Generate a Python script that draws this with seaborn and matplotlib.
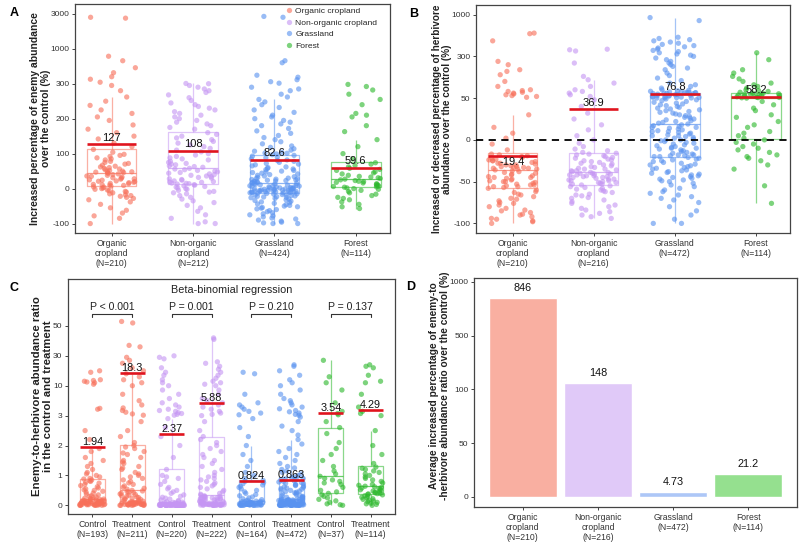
import numpy as np
import pandas as pd
import matplotlib
matplotlib.use("Agg")
import matplotlib.pyplot as plt
import seaborn as sns
from matplotlib.ticker import FixedLocator, FixedFormatter, NullLocator

# ---------------- DATA ----------------
land = ["Organic cropland", "Non-organic cropland", "Grassland", "Forest"]

# Panel A: increased percentage of enemy abundance (%)
a_labels = ["Organic\ncropland\n(N=210)", "Non-organic\ncropland\n(N=212)", "Grassland\n(N=424)", "Forest\n(N=114)"]
a_org = [2800, 2750, 850, 760, 620, 520, 440, 390, 330,
         295, 280, 262, 250, 238, 225, 215, 205,
         195, 182, 170, 160, 150, 142, 130, 120, 112, 104,
         98, 95, 92, 88, 85, 82, 78, 75, 72, 70, 67, 64, 62, 60, 58, 56, 54, 52, 50, 49, 48, 47, 46, 45,
         44, 42, 40, 38, 36, 35, 33, 31, 30, 28, 27, 25, 24, 22, 21, 20, 18, 17, 15, 14, 12, 11, 10,
         9, 7, 5, 4, 2, 0, -2, -4, -6, -8, -10, -12, -15, -18, -20, -22, -25, -28, -32, -38, -45, -55,
         -62, -70, -78, -85, -100]
a_non = [305, 300, 295, 290, 285, 280, 275, 268, 260, 252, 245, 240, 235, 230, 225, 220, 215, 210, 205,
         200, 195, 190, 185, 180, 175, 170,
         160, 155, 150, 145, 140, 135, 130, 125, 120, 115, 110, 105, 100, 96, 92, 88, 85, 82, 78, 75, 72,
         70, 68, 65, 63, 61,
         58, 56, 54, 52, 50, 48, 46, 44, 42, 40, 38, 36, 34, 32, 30, 28, 26, 24, 22, 20, 19, 18, 16, 15, 14, 13,
         11, 10, 8, 6, 4, 2, 0, -2, -5, -8, -10, -12, -15, -20, -25, -30, -35, -40, -48, -55, -65, -75, -85,
         -95, -100, -100]
a_gra = [2850, 2800, 760, 720, 470, 430, 380, 340, 310,
         290, 285, 280, 270, 262, 255, 248, 240, 232, 225, 218, 210, 205, 200, 195, 190, 185, 180, 172, 165,
         158, 152, 146, 140, 134, 128, 122, 118, 114, 110, 107, 104, 102, 101,
         99, 97, 95, 93, 90, 88, 85, 82, 80, 78, 75, 72, 70, 68, 65, 62, 60, 58, 56, 54, 52, 50, 48, 46, 44,
         42, 40, 38, 36, 34, 32, 30, 29, 28, 27, 26, 25, 24, 23, 22, 21, 20, 19, 18, 17, 16,
         15, 14, 13, 12, 11, 10, 9, 8, 8, 7, 6, 5, 5, 4, 3, 2, 2, 1, 0, 0, -1, -1, -2, -2, -3, -3, -4, -4,
         -5, -5, -6, -6, -7, -7, -8, -8, -9, -9, -10, -10, -11, -11, -12, -12, -13,
         -14, -15, -16, -17, -18, -19, -20, -21, -22, -23, -24, -25, -26, -28, -30, -32, -34, -36, -38, -40,
         -42, -44, -46, -48, -50, -52, -54, -56, -58, -60, -63, -66, -69, -72, -75, -78, -81, -84, -87, -90,
         -93, -96, -98, -100, -100]
a_for = [298, 292, 282, 270, 255, 240, 215, 210, 205, 180, 163, 140, 120, 100, 85,
         74, 70, 66, 62, 58, 55, 52, 48, 45, 42, 38, 35, 33, 31, 29,
         27, 25, 23, 21, 20, 18, 16, 14, 12, 10, 9, 7, 6, 5, 4,
         2, 0, -2, -5, -8, -12, -16, -20, -25, -28, -32, -38, -45, -52, -57]
a_means = [127, 108, 82.6, 59.6]
a_ticks = [-100, 0, 100, 200, 300, 1000, 3000]

# Panel B: increased or decreased percentage of herbivore abundance (%)
b_labels = ["Organic\ncropland\n(N=210)", "Non-organic\ncropland\n(N=216)", "Grassland\n(N=472)", "Forest\n(N=114)"]
b_org = [690, 680, 560, 270, 250, 220, 210, 190, 150, 120, 100, 95, 90, 85, 80, 75, 70, 65, 60, 55, 30, 15,
         8, 2, -5, -12,
         -17, -18, -19, -20, -21, -22, -23, -24, -25, -25, -26, -27, -28, -28, -29, -30, -30, -31, -32, -32,
         -33, -33, -34, -34, -35, -35,
         -36, -37, -38, -39, -40, -41, -42, -43, -44, -45, -45, -46, -47, -48, -49, -50, -50, -51, -52, -53,
         -54, -54, -55, -56, -56, -57,
         -58, -60, -62, -63, -65, -66, -68, -70, -71, -73, -75, -76, -78, -80, -82, -84, -85, -87, -89, -90,
         -92, -94, -95, -97, -98, -100]
b_non = [420, 410, 390, 260, 180, 160, 140, 120, 100, 90, 80, 70, 60, 48, 40, 32, 25, 18, 12, 5, 0, -4, -8,
         -11, -13, -15,
         -16, -17, -18, -19, -20, -21, -22, -23, -24, -25, -26, -27, -28, -29, -30, -31, -32, -33, -34, -35,
         -35, -36, -37, -37, -38, -39,
         -39, -40, -40, -41, -41, -42, -42, -43, -43, -44, -44, -45, -45, -46, -47, -47, -48, -49, -49, -50,
         -51, -51, -52, -53, -53, -54,
         -55, -56, -57, -58, -59, -60, -61, -62, -63, -65, -66, -67, -69, -70, -72, -74, -76, -78, -80, -82,
         -84, -86, -88, -90, -92, -94]
b_gra = [950, 900, 620, 600, 580, 560, 540, 520, 500, 480, 460, 440, 420, 400, 380, 360, 340, 320, 300, 290,
         280, 270, 260, 250, 240, 230, 220, 200, 185, 170, 155, 140, 130, 120, 110, 100, 97, 94, 91, 89, 87,
         85, 84, 83, 82, 81, 80, 79,
         78, 76, 74, 72, 70, 68, 66, 64, 62, 60, 58, 56, 55, 54, 53, 52, 51, 50, 49, 48, 47, 46, 45, 44, 43,
         42, 41, 40, 39, 38, 37, 36, 35, 34, 33, 32, 31, 30, 29, 28, 27, 26, 25, 24, 23, 22, 21, 20,
         19, 18, 17, 16, 15, 14, 13, 12, 11, 10, 9, 8, 7, 6, 5, 4, 3, 2, 1, 0, -1, -2, -3, -4, -5, -6, -7,
         -8, -9, -10, -11, -12, -13, -14, -15, -16, -17, -18, -18, -19, -19, -20, -20, 15, 10, 5, 0, -10,
         -21, -22, -23, -24, -25, -26, -27, -28, -29, -30, -31, -32, -33, -34, -35, -36, -37, -38, -39, -40,
         -41, -42, -43, -44, -45, -46, -47, -48, -49, -50, -52, -54, -56, -58, -60, -62, -64, -66, -68, -70,
         -72, -75, -80, -85, -90, -95, -100, -100]
b_for = [360, 280, 220, 200, 180, 165, 150, 140, 130, 120, 110, 100, 95, 90, 85,
         80, 78, 76, 74, 72, 70, 68, 66, 64, 62, 60, 58, 56, 54, 53,
         52, 50, 46, 42, 38, 35, 30, 27, 22, 18, 15, 10, 8, 5, 2,
         0, -3, -5, -8, -10, -12, -15, -18, -20, -22, -25, -30, -35, -55, -76]
b_means = [-19.4, 36.9, 76.8, 58.2]
b_ticks = [-100, -50, 0, 50, 300, 1000]

# Panel C: enemy-to-herbivore abundance ratio
c_labels = ["Control\n(N=193)", "Treatment\n(N=211)", "Control\n(N=220)", "Treatment\n(N=222)",
            "Control\n(N=164)", "Treatment\n(N=472)", "Control\n(N=37)", "Treatment\n(N=114)"]
c_land = ["Organic cropland", "Organic cropland", "Non-organic cropland", "Non-organic cropland",
          "Grassland", "Grassland", "Forest", "Forest"]
c_org_ctrl = [20, 19, 14, 13.5, 13, 12.5, 12, 11, 4.7, 4.5, 2.5, 2.2, 1.9, 1.8, 1.6, 1.5, 1.4, 1.3, 1.2, 1.1,
              1.05, 1.0, 0.95, 0.9,
              0.88, 0.85, 0.82, 0.8, 0.77, 0.74, 0.7, 0.66, 0.62, 0.58, 0.55, 0.52, 0.5, 0.47, 0.44, 0.41,
              0.38, 0.35, 0.32, 0.3, 0.28, 0.26, 0.24, 0.22,
              0.21, 0.2, 0.19, 0.18, 0.17, 0.17, 0.16, 0.15, 0.15, 0.14, 0.13, 0.13, 0.12, 0.12, 0.11, 0.11,
              0.1, 0.1, 0.1, 0.09, 0.09, 0.09, 0.08, 0.08,
              0.07, 0.07, 0.06, 0.06, 0.05, 0.05, 0.05, 0.04, 0.04, 0.04, 0.03, 0.03, 0.03, 0.02, 0.02, 0.02,
              0.01, 0.01, 0.01, 0.0, 0.0, 0.0, 0.0, 0.0]
c_org_trt = [53, 52, 37, 36, 29, 27, 25, 22, 20, 18, 16, 14, 12, 10, 8, 6.5, 5.5, 4.8, 4.2, 3.8, 3.4, 3.1,
             2.8, 2.5, 2.3, 2.1,
             2.0, 1.95, 1.9, 1.8, 1.75, 1.7, 1.6, 1.5, 1.45, 1.4, 1.3, 1.25, 1.2, 1.1, 1.05, 1.0, 0.95, 0.9,
             0.85, 0.8, 0.75, 0.7, 0.65, 0.6, 0.57, 0.54,
             0.5, 0.48, 0.46, 0.44, 0.42, 0.4, 0.38, 0.36, 0.34, 0.32, 0.3, 0.28, 0.26, 0.24, 0.22, 0.2, 0.19,
             0.17, 0.16, 0.14, 0.13, 0.12, 0.11, 0.1, 0.09, 0.08,
             0.08, 0.07, 0.07, 0.07, 0.06, 0.06, 0.06, 0.05, 0.05, 0.05, 0.04, 0.04, 0.04, 0.03, 0.03, 0.03,
             0.02, 0.02, 0.02, 0.01, 0.01, 0.01, 0.0, 0.0, 0.0, 0.0]
c_non_ctrl = [30, 29, 28, 22, 19, 17, 14, 12, 10, 9, 8, 7, 6, 5.5, 5, 4.5, 4.2, 4, 3.7, 3.5, 3.3, 3.1, 2.9,
              2.6, 2.3, 2.0, 1.6, 1.2,
              1.0, 0.95, 0.9, 0.8, 0.7, 0.6, 0.55, 0.5, 0.45, 0.4, 0.35, 0.3, 0.27, 0.24, 0.21, 0.18, 0.16,
              0.14, 0.12, 0.11, 0.1, 0.09, 0.08, 0.07, 0.06, 0.06, 0.05,
              0.05, 0.05, 0.04, 0.04, 0.04, 0.04, 0.03, 0.03, 0.03, 0.03, 0.03, 0.02, 0.02, 0.02, 0.02, 0.02,
              0.02, 0.01, 0.01, 0.01, 0.01, 0.01, 0.01, 0.01,
              0.0, 0.0, 0.0, 0.0, 0.0, 0.0, 0.0, 0.0, 0.0, 0.0, 0.0, 0.0, 0.0, 0.0, 0.0, 0.0, 0.0, 0.0, 0.0, 0.0,
              0.0, 0.0, 0.0, 0.0, 0.0, 0.0, 0.0, 0.0, 0.0, 0.0]
c_non_trt = [42, 41, 26, 25, 23, 21, 19, 17, 15, 13, 12, 11, 10, 9, 8, 7, 6.5, 6, 5.5, 5, 4.5, 4, 3.6, 3.3,
             3.0, 2.8, 2.5, 2.3,
             2.2, 2.1, 2.0, 1.9, 1.8, 1.7, 1.6, 1.5, 1.4, 1.3, 1.2, 1.1, 1.0, 0.95, 0.9, 0.85, 0.8, 0.75, 0.7,
             0.65, 0.6, 0.55, 0.5, 0.45, 0.4, 0.37, 0.34,
             0.32, 0.3, 0.29, 0.28, 0.27, 0.26, 0.25, 0.24, 0.23, 0.22, 0.21, 0.2, 0.19, 0.18, 0.17, 0.16,
             0.15, 0.14, 0.13, 0.12, 0.11, 0.1, 0.09, 0.08, 0.07, 0.06, 0.05,
             0.05, 0.05, 0.04, 0.04, 0.04, 0.04, 0.03, 0.03, 0.03, 0.03, 0.02, 0.02, 0.02, 0.02, 0.02, 0.01,
             0.01, 0.01, 0.01, 0.01, 0.0, 0.0, 0.0, 0.0, 0.0, 0.0, 0.0]
c_gra_ctrl = [19, 18, 8, 6, 5.5, 5, 4.5, 4, 3.6, 3.2, 2.9, 2.6, 2.3, 2.0, 1.7, 1.5, 1.3, 1.1, 1.0, 0.9,
              0.83, 0.8, 0.76, 0.72, 0.68, 0.64, 0.6, 0.55, 0.5, 0.45, 0.4, 0.36, 0.32, 0.28, 0.25, 0.22,
              0.19, 0.17, 0.15, 0.14,
              0.13, 0.12, 0.12, 0.11, 0.11, 0.1, 0.1, 0.09, 0.09, 0.08, 0.08, 0.07, 0.07, 0.06, 0.06, 0.05,
              0.05, 0.05, 0.04, 0.04, 0.04, 0.03, 0.03, 0.03, 0.03, 0.02, 0.02, 0.02, 0.02, 0.01, 0.01, 0.01,
              0.01, 0.0, 0.0, 0.0, 0.0, 0.0, 0.0, 0.0]
c_gra_trt = [24, 23, 20, 17, 14, 12, 10, 9, 8, 7, 6.5, 6, 5.5, 5, 4.6, 4.2, 3.9, 3.6, 3.3, 3.1, 2.95, 2.8,
             2.65, 2.5, 2.35, 2.2, 2.05, 1.9, 1.8, 1.7, 1.6, 1.5, 1.4, 1.3, 1.25, 1.2, 1.15, 1.1, 1.05, 1.0,
             0.95, 0.93, 0.9, 0.88, 0.86, 0.84, 0.82, 0.8, 0.78, 0.76, 0.74, 0.72, 0.7, 0.68, 0.66, 0.64,
             0.62, 0.6, 0.58, 0.56, 0.54, 0.52, 0.5, 0.48, 0.46, 0.44, 0.42, 0.4, 0.38, 0.36, 0.34, 0.32,
             0.3, 0.28, 0.27, 0.26, 0.25, 0.23, 0.22, 0.21,
             0.20, 0.19, 0.19, 0.18, 0.18, 0.17, 0.17, 0.16, 0.16, 0.15, 0.15, 0.14, 0.14, 0.13, 0.13, 0.12,
             0.12, 0.11, 0.11, 0.10, 0.10, 0.09, 0.09, 0.09, 0.08, 0.08, 0.08, 0.07, 0.07, 0.07, 0.06, 0.06,
             0.06, 0.06, 0.05, 0.05, 0.05, 0.05, 0.04, 0.04, 0.04, 0.04, 0.04, 0.03, 0.03, 0.03, 0.03, 0.03,
             0.03, 0.02, 0.02, 0.02, 0.02, 0.02, 0.02, 0.02, 0.01, 0.01, 0.01, 0.01, 0.01, 0.01, 0.01, 0.01,
             0.0, 0.0, 0.0, 0.0, 0.0, 0.0, 0.0, 0.0, 0.0, 0.0, 0.0, 0.0, 0.0, 0.0, 0.0, 0.0]
c_for_ctrl = [27, 16, 12, 9, 6, 4, 3.5, 3.2, 2.8, 2.6, 2.4, 2.1, 1.9, 1.7, 1.5, 1.3, 1.15, 1.05, 0.97,
              0.9, 0.85, 0.8, 0.75, 0.7, 0.6, 0.5, 0.45, 0.4, 0.35, 0.3, 0.25, 0.2, 0.15, 0.1, 0.05, 0.02, 0.0]
c_for_trt = [24, 23, 22, 17, 13, 12, 8, 5, 4, 3.5, 3.0, 2.5, 2.0, 1.7, 1.4,
             1.28, 1.24, 1.2, 1.15, 1.1, 1.05, 1.0, 0.95, 0.9, 0.85, 0.8, 0.75, 0.7, 0.67, 0.64,
             0.62, 0.6, 0.58, 0.56, 0.54, 0.52, 0.5, 0.48, 0.46, 0.44, 0.42, 0.4, 0.39, 0.38, 0.37,
             0.35, 0.32, 0.3, 0.27, 0.25, 0.22, 0.2, 0.17, 0.15, 0.12, 0.1, 0.07, 0.05, 0.03, 0.0]
c_means = [1.94, 18.3, 2.37, 5.88, 0.824, 0.863, 3.54, 4.29]
c_pvals = ["P < 0.001", "P = 0.001", "P = 0.210", "P = 0.137"]
c_ticks = [0, 1, 2, 3, 10, 30, 50]

# Panel D: average increased percentage of enemy-to-herbivore ratio (%)
d_labels = b_labels
d_values = [846, 148, 4.73, 21.2]
d_ticks = [0, 50, 100, 500, 1000]

# ---------------- STYLE ----------------
pal = {"Organic cropland": "#F7705A", "Non-organic cropland": "#C596F3",
       "Grassland": "#5A93F0", "Forest": "#2DB82D"}
bar_cols = ["#F9AFA1", "#E0C9F8", "#ADC7F7", "#95E08F"]
RED = "#E0141E"
INK = "#222222"
TICKC = "#333333"
# whisker reach (multiples of IQR in the axis' scale space) per box
whis_a = [1.5, 1.5, 1.5, 1.1]
whis_b = [1.5, 2.3, 1.5, 1.5]
whis_c = [1.5, 1.25, 1.5, 1.5, 1.5, 1.5, 1.5, 1.5]

sns.set_style("ticks")
plt.rcParams['font.family'] = ['Liberation Sans', 'DejaVu Sans']
plt.rcParams['axes.edgecolor'] = "#444444"
plt.rcParams['axes.linewidth'] = 0.9
np.random.seed(7)

W, H = 799, 554
fig = plt.figure(figsize=(W / 100, H / 100), dpi=100)


def px_axes(l, t, r, b):
    return fig.add_axes([l / W, 1 - b / H, (r - l) / W, (b - t) / H])


def piecewise(knots):
    k = np.asarray(knots, float)
    p = np.arange(len(k), dtype=float)
    s0, s1 = k[1] - k[0], k[-1] - k[-2]

    def fwd(v):
        v = np.asarray(v, float)
        return np.where(v < k[0], (v - k[0]) / s0,
                        np.where(v > k[-1], p[-1] + (v - k[-1]) / s1, np.interp(v, k, p)))

    def inv(q):
        q = np.asarray(q, float)
        return np.where(q < 0, k[0] + q * s0,
                        np.where(q > p[-1], k[-1] + (q - p[-1]) * s1, np.interp(q, p, k)))
    return fwd, inv


def set_scale(ax, knots):
    fwd, inv = piecewise(knots)
    ax.set_yscale('function', functions=(fwd, inv))
    return fwd, inv


def finish_y(ax, knots, inv, plim):
    ax.yaxis.set_major_locator(FixedLocator(knots))
    ax.yaxis.set_major_formatter(FixedFormatter([f"{v:g}" for v in knots]))
    ax.yaxis.set_minor_locator(NullLocator())
    ax.set_ylim(float(inv(plim[0])), float(inv(plim[1])))


def style_ticks(ax, xsize=6.2, ysize=6.0):
    ax.tick_params(axis='both', length=2.5, width=0.7, color="#444444", labelcolor=TICKC, pad=1.5)
    ax.tick_params(axis='x', labelsize=xsize)
    ax.tick_params(axis='y', labelsize=ysize)
    for s in ax.spines.values():
        s.set_visible(True)
        s.set_color("#444444")
        s.set_linewidth(0.9)
    ax.set_xlabel("")


def box_strip(ax, df, order, width, whis, legend=False):
    for i, cat in enumerate(order):
        sub = df[df["cat"] == cat]
        sns.boxplot(data=sub, x="cat", y="val", hue="grp", order=order, hue_order=land, palette=pal,
                    fill=False, width=width, showfliers=False, showcaps=False, linewidth=0.9, dodge=False,
                    whis=whis[i], boxprops=dict(alpha=0.55), whiskerprops=dict(alpha=0.55),
                    medianprops=dict(alpha=0.7), legend=False, ax=ax)
    sns.stripplot(data=df, x="cat", y="val", hue="grp", order=order, hue_order=land, palette=pal,
                  jitter=width / 2, size=3.8, alpha=0.62, linewidth=0, dodge=False, legend=legend, ax=ax)


def mean_lines(ax, means, width, fs, below=None, gap=1.0):
    for i, m in enumerate(means):
        ax.hlines(m, i - width / 2, i + width / 2, color=RED, lw=1.9, zorder=6)
        dn = below is not None and below[i]
        ax.annotate(f"{m:g}", (i, m), xytext=(0, -gap if dn else gap), textcoords='offset points',
                    ha='center', va='top' if dn else 'bottom', fontsize=fs, color="#111111", zorder=7)


def frame_df(groups, labels, lands):
    return pd.concat([pd.DataFrame({"cat": lab, "grp": ln, "val": g})
                      for g, lab, ln in zip(groups, labels, lands)], ignore_index=True)


# ---------------- Panel A ----------------
axA = px_axes(75, 4, 390, 233)
fA, iA = set_scale(axA, a_ticks)
dfA = frame_df([a_org, a_non, a_gra, a_for], a_labels, land)
box_strip(axA, dfA, a_labels, 0.61, whis_a, legend=True)
mean_lines(axA, a_means, 0.61, 8)
finish_y(axA, a_ticks, iA, (-0.27, 6.28))
axA.set_xlim(-0.45, 3.42)
style_ticks(axA)
axA.set_ylabel("Increased percentage of enemy abundance\nover the control (%)",
               fontsize=7.5, fontweight='bold', color=INK, linespacing=1.1)
axA.yaxis.set_label_coords(-0.076, 0.5)
h, l = axA.get_legend_handles_labels()
axA.legend(h, l, loc='upper left', bbox_to_anchor=(0.655, 1.0), frameon=False, fontsize=6.1,
           handletextpad=0.1, labelspacing=0.45, borderaxespad=0.15, borderpad=0.2,
           handlelength=1.2, markerscale=1.0)

# ---------------- Panel B ----------------
axB = px_axes(476, 5, 790, 233)
fB, iB = set_scale(axB, b_ticks)
dfB = frame_df([b_org, b_non, b_gra, b_for], b_labels, land)
box_strip(axB, dfB, b_labels, 0.61, whis_b)
axB.axhline(0, color="black", lw=1.3, ls=(0, (4, 3)), zorder=5)
mean_lines(axB, b_means, 0.61, 8, below=[True, False, False, False])
finish_y(axB, b_ticks, iB, (-0.23, 5.23))
axB.set_xlim(-0.45, 3.42)
style_ticks(axB)
axB.set_ylabel("Increased or decreased percentage of herbivore\nabundance over the control (%)",
               fontsize=7.2, fontweight='bold', color=INK, linespacing=1.1)
axB.yaxis.set_label_coords(-0.075, 0.5)

# ---------------- Panel C ----------------
axC = px_axes(68, 279, 395, 514)
fC, iC = set_scale(axC, c_ticks)
order_c = [f"g{i}" for i in range(8)]
dfC = frame_df([c_org_ctrl, c_org_trt, c_non_ctrl, c_non_trt, c_gra_ctrl, c_gra_trt, c_for_ctrl, c_for_trt],
               order_c, c_land)
box_strip(axC, dfC, order_c, 0.63, whis_c)
mean_lines(axC, c_means, 0.63, 7.8, gap=0.0)
finish_y(axC, c_ticks, iC, (-0.29, 7.57))
axC.set_xlim(-0.61, 7.61)
axC.set_xticks(range(8))
axC.set_xticklabels(c_labels)
style_ticks(axC, xsize=6.3)
axC.set_ylabel("Enemy-to-herbivore abundance ratio\nin the control and treatment",
               fontsize=8.2, fontweight='bold', color=INK, linespacing=1.1)
axC.yaxis.set_label_coords(-0.047, 0.5)
tr = axC.get_xaxis_transform()
axC.text(3.5, 0.955, "Beta-binomial regression", transform=tr, ha='center', va='center',
         fontsize=7.8, color=INK)
for j, ptxt in enumerate(c_pvals):
    x0, x1 = 2 * j, 2 * j + 1
    axC.plot([x0, x0, x1, x1], [0.838, 0.849, 0.849, 0.838], transform=tr, color="#333333", lw=0.8,
             clip_on=False)
    axC.text((x0 + x1) / 2, 0.88, ptxt, transform=tr, ha='center', va='center', fontsize=7.6, color=INK)

# ---------------- Panel D ----------------
axD = px_axes(474, 278, 797, 507)
fD, iD = set_scale(axD, d_ticks)
sns.barplot(x=d_labels, y=d_values, hue=d_labels, palette=bar_cols, width=0.9, legend=False,
            ax=axD, saturation=1.0)
for i, v in enumerate(d_values):
    axD.annotate(f"{v:g}", (i, v), xytext=(0, 3.5), textcoords='offset points', ha='center',
                 va='bottom', fontsize=7.8, color="#111111")
finish_y(axD, d_ticks, iD, (-0.19, 4.07))
axD.set_xlim(-0.65, 3.65)
style_ticks(axD)
axD.set_ylabel("Average increased percentage of enemy-to\n-herbivore abundance ratio over the control (%)",
               fontsize=7.3, fontweight='bold', color=INK, linespacing=1.1)
axD.yaxis.set_label_coords(-0.074, 0.53)

# ---------------- panel letters ----------------
for txt, x, y in [("A", 14, 12.5), ("B", 414, 14), ("C", 14, 288), ("D", 411, 287)]:
    fig.text(x / W, 1 - y / H, txt, fontsize=9, fontweight='bold', ha='center', va='center', color="black")

fig.savefig("out.png", dpi=100)
